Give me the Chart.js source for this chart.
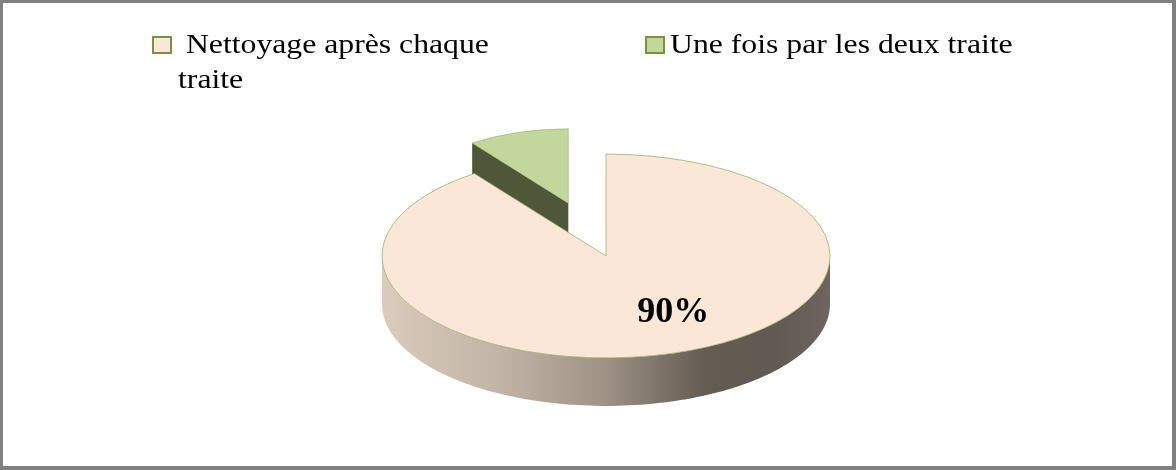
<!DOCTYPE html>
<html><head><meta charset="utf-8">
<script src="https://cdn.jsdelivr.net/npm/chart.js@4.4.1/dist/chart.umd.min.js"></script>
<style>
html,body{margin:0;padding:0;background:#fff;}
#wrap{position:relative;width:1176px;height:470px;overflow:hidden;background:#fff;}
#frame{position:absolute;left:0;top:0;width:1176px;height:470px;box-sizing:border-box;border:3px solid #808080;border-right-width:4px;border-bottom-width:4px;pointer-events:none;}
canvas{position:absolute;left:0;top:0;}
.mk{position:absolute;width:20px;height:18px;box-sizing:border-box;border:2px solid #77933C;}
.lt{position:absolute;font-family:"Liberation Serif","Times New Roman",serif;font-size:27px;line-height:35px;color:#000;white-space:nowrap;transform:scaleX(1.175);transform-origin:0 0;}
</style></head>
<body><div id="wrap"><canvas id="c" width="1176" height="470"></canvas><div id="legend"></div><div id="frame"></div></div>
<script>
// ---- data ----
const categories = ['Nettoyage après chaque traite', 'Une fois par les deux traite'];
const legendLines = [['\u00a0Nettoyage après chaque', 'traite'], ['Une fois par les deux traite']];
const values = [90, 10];
const valueLabels = ['90%', ''];

// ---- styles ----
const topColors = ['#FAE7D8', '#C3D69B'];
const cutColors = ['#6A6158', '#4F5739'];
const explodeDist = [0, 122];     // explosion distance of each slice (px, untilted)
const perspScale = [1, 0.73];     // perspective shrink of each slice (back slices look smaller)
const K = 0.455, DEPTH = 48;

// legend (HTML)
const legendPos = [{mx:152, my:36, tx:178, ty:27}, {mx:645, my:36, tx:670, ty:27}];
const leg = document.getElementById('legend');
categories.forEach((c, i) => {
  const m = document.createElement('div'); m.className = 'mk';
  m.style.left = legendPos[i].mx + 'px'; m.style.top = legendPos[i].my + 'px';
  m.style.background = topColors[i]; leg.appendChild(m);
  const t = document.createElement('div'); t.className = 'lt';
  t.style.left = legendPos[i].tx + 'px'; t.style.top = legendPos[i].ty + 'px';
  t.innerHTML = legendLines[i].join('<br>'); leg.appendChild(t);
});

function geom(a, i) {
  const p = a.getProps(['x','y','startAngle','endAngle','outerRadius'], true);
  const h = (p.startAngle + p.endAngle) / 2;
  const t = explodeDist[i] || 0;
  return {cx:p.x, cy:p.y, tx:Math.cos(h)*t, ty:Math.sin(h)*t, s:p.startAngle, e:p.endAngle,
          R:p.outerRadius, k:perspScale[i] || 1};
}
function P(g, th, r, d) {
  return [g.cx + g.tx + g.k*r*Math.cos(th), g.cy + K*(g.ty + g.k*r*Math.sin(th)) + g.k*(d || 0)];
}
function sideGradient(ctx, g, i) {
  const gr = ctx.createLinearGradient(g.cx + g.tx - g.R*g.k, 0, g.cx + g.tx + g.R*g.k, 0);
  if (i === 0) {
    gr.addColorStop(0, '#DACBBC'); gr.addColorStop(0.26, '#C2B4A6');
    gr.addColorStop(0.49, '#A09487'); gr.addColorStop(0.72, '#645B52');
    gr.addColorStop(0.88, '#625A52'); gr.addColorStop(1, '#6E665E');
  } else {
    gr.addColorStop(0, '#8A9A5E'); gr.addColorStop(1, '#4F5739');
  }
  return gr;
}

const ArcProto = Chart.ArcElement.prototype;
const pie3d = {
  id: 'pie3d',
  beforeDatasetsDraw(chart) {
    const ctx = chart.ctx;
    const arcs = chart.getDatasetMeta(0).data;
    const gs = arcs.map(geom);
    arcs.forEach((a, i) => {
      if (a._p3d) return;
      a._p3d = true;
      a.draw = function (c) {
        const g = geom(this, i);
        c.save();
        c.translate(g.cx + g.tx, g.cy + g.ty);
        c.scale(g.k, g.k);
        c.translate(-g.cx, -g.cy);
        ArcProto.draw.call(this, c);
        c.restore();
      };
    });
    const order = gs.map((g, i) => i).sort((a, b) => gs[a].ty - gs[b].ty);
    order.forEach(i => {
      const g = gs[i];
      const faces = [];
      if (Math.cos(g.s) < -1e-6) faces.push(g.s);
      if (Math.cos(g.e) > 1e-6) faces.push(g.e);
      faces.forEach(th => {
        const c = P(g, 0, 0), o = P(g, th, g.R), od = P(g, th, g.R, DEPTH), cd = P(g, 0, 0, DEPTH);
        ctx.beginPath(); ctx.moveTo(c[0], c[1]); ctx.lineTo(o[0], o[1]); ctx.lineTo(od[0], od[1]); ctx.lineTo(cd[0], cd[1]); ctx.closePath();
        ctx.fillStyle = cutColors[i]; ctx.fill();
      });
      for (let n = -1; n <= 1; n++) {
        const lo = Math.max(g.s, 2*Math.PI*n), hi = Math.min(g.e, Math.PI + 2*Math.PI*n);
        if (hi <= lo) continue;
        const steps = 120;
        ctx.beginPath();
        for (let k = 0; k <= steps; k++) { const th = lo + (hi-lo)*k/steps; const q = P(g, th, g.R); k ? ctx.lineTo(q[0], q[1]) : ctx.moveTo(q[0], q[1]); }
        for (let k = steps; k >= 0; k--) { const th = lo + (hi-lo)*k/steps; const q = P(g, th, g.R, DEPTH); ctx.lineTo(q[0], q[1]); }
        ctx.closePath();
        ctx.fillStyle = sideGradient(ctx, g, i); ctx.fill();
      }
    });
    const g0 = gs[0];
    ctx.save();
    ctx.translate(g0.cx, g0.cy); ctx.scale(1, K); ctx.translate(-g0.cx, -g0.cy);
  },
  afterDatasetsDraw(chart) {
    const ctx = chart.ctx;
    ctx.restore();
    const arcs = chart.getDatasetMeta(0).data;
    arcs.forEach((a, i) => {
      if (!valueLabels[i]) return;
      const g = geom(a, i);
      ctx.save();
      ctx.font = 'bold 36px "Liberation Serif", "Times New Roman", serif';
      ctx.fillStyle = '#000'; ctx.textAlign = 'center'; ctx.textBaseline = 'middle';
      ctx.fillText(valueLabels[i], g.cx + g.tx + g.R*0.30, g.cy + K*(g.ty + g.R*0.56));
      ctx.restore();
    });
  }
};

new Chart(document.getElementById('c').getContext('2d'), {
  type: 'pie',
  data: {
    labels: categories,
    datasets: [{
      data: values,
      backgroundColor: topColors,
      borderColor: '#93AA5C',
      borderWidth: 1,
      radius: 224,
      clip: false
    }]
  },
  options: {
    responsive: false,
    animation: false,
    events: [],
    radius: 224,
    layout: {padding: {left: 36, top: 42, right: 0, bottom: 0}},
    plugins: {legend: {display: false}, tooltip: {enabled: false}}
  },
  plugins: [pie3d]
});
</script>
</body></html>
